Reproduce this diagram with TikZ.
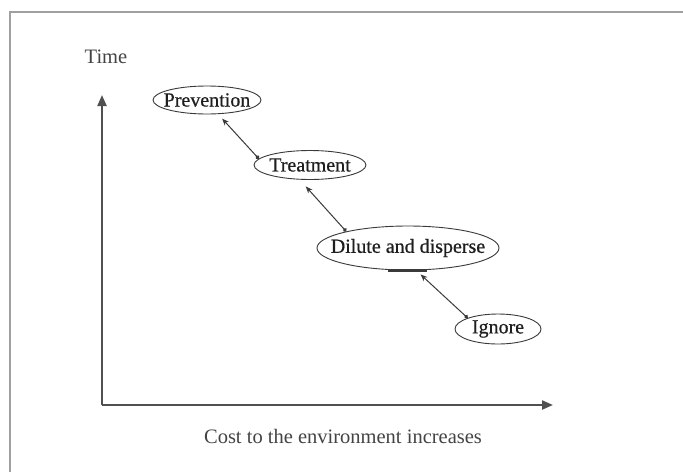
\documentclass[tikz,border=0pt]{standalone}
\usepackage{fontspec}
\setmainfont{Liberation Serif}
\newfontfamily\stagefont[FakeBold=0.6]{Liberation Serif}
\usetikzlibrary{arrows.meta,shapes.geometric}

\definecolor{framegray}{HTML}{A0A0A0}
\definecolor{axisgray}{HTML}{505050}
\definecolor{inkgray}{HTML}{3A3A3A}
\definecolor{textgray}{HTML}{444444}

\tikzset{
  stage/.style={ellipse, draw=inkgray, line width=0.9pt, inner sep=0pt},
  stagetext/.style={inner sep=0pt, font=\stagefont\fontsize{20}{23}\selectfont, text=black!88},
  axis/.style={draw=axisgray, line width=2.2pt,
    -{Triangle[length=11pt,width=9pt]}},
  conn/.style={draw=inkgray, line width=1pt,
    {Circle[length=4pt]}-{Stealth[length=7pt,width=5.5pt]}},
  axislabel/.style={font=\fontsize{20.5}{23}\selectfont, text=textgray},
  frameline/.style={draw=framegray, line width=1.4pt}
}

\begin{document}
\begin{tikzpicture}[x=1pt, y=-1pt]
  \useasboundingbox[fill=white] (0,0) rectangle (683,472);

  % outer frame (left and top edges)
  \coordinate (fbl) at (10,472);
  \coordinate (ftl) at (10,12);
  \coordinate (ftr) at (683,12);
  \draw[frameline] (fbl) -- (ftl) -- (ftr);

  % axes
  \coordinate (origin) at (102,405);
  \coordinate (ytip) at (102,95);
  \coordinate (xtip) at (553,405);
  \draw[axis] (origin) -- (ytip);
  \draw[axis] (origin) -- (xtip);

  \node[axislabel] (ylab) at (106,57) {Time};
  \node[axislabel] (xlab) at (343,436) {Cost to the environment increases};

  % stage outlines
  \node[stage, minimum width=108pt, minimum height=28pt] (prev) at (207,100) {};
  \node[stage, minimum width=112pt, minimum height=29pt] (treat) at (310,165) {};
  \node[stage, minimum width=182pt, minimum height=44pt] (dil) at (408,248) {};
  \node[stage, minimum width=86pt, minimum height=30pt] (ign) at (498,329) {};

  % stage names
  \node[stagetext] (prevt) at (prev) {Prevention};
  \node[stagetext] (treatt) at (treat) {Treatment};
  \node[stagetext] (dilt) at (dil) {Dilute and disperse};
  \node[stagetext] (ignt) at (ign) {Ignore};

  % heavier stroke along the lower edge of the middle ellipse
  \draw[inkgray, line width=2.4pt] ([xshift=-20pt]dil.south) -- ([xshift=19pt]dil.south);

  % links between stages
  \draw[conn, shorten >=6pt] (treat.173) -- (prev.-52);
  \draw[conn, shorten >=9pt] (dil.165) -- (treat.-125);
  \draw[conn, shorten >=6pt] (ign.160) -- (dil.-70);
\end{tikzpicture}
\end{document}
